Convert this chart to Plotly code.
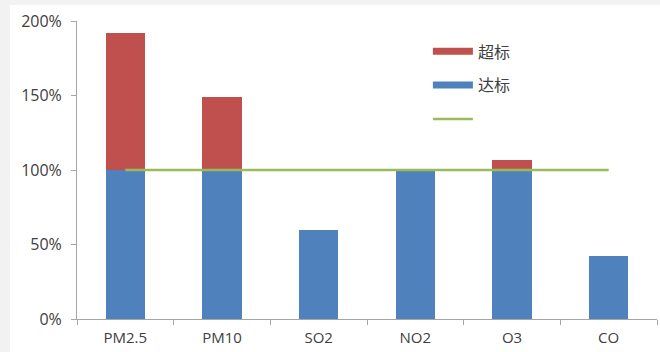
import plotly.graph_objects as go

categories = ["PM2.5", "PM10", "SO2", "NO2", "O3", "CO"]
meet_vals = [1.00, 1.00, 0.60, 1.00, 1.00, 0.42]     # 达标
exceed_vals = [0.92, 0.49, 0.0, 0.0, 0.07, 0.0]     # 超标
standard_line = [1.0, 1.0, 1.0, 1.0, 1.0, 1.0]
y_ticks = [0, 0.5, 1.0, 1.5, 2.0]
y_tick_labels = ["0%", "50%", "100%", "150%", "200%"]

RED = "#c0504d"
BLUE = "#4f81bd"
GREEN = "#9bbb59"
FONT = "Open Sans, Noto Sans CJK SC, sans-serif"

fig = go.Figure()
fig.add_trace(go.Bar(x=categories, y=meet_vals, marker=dict(color=BLUE, line_width=0),
                     showlegend=False, width=0.41))
fig.add_trace(go.Bar(x=categories, y=exceed_vals, marker=dict(color=RED, line_width=0),
                     showlegend=False, width=0.41))
fig.add_trace(go.Scatter(x=categories, y=standard_line, mode="lines",
                         line=dict(color=GREEN, width=2.5), showlegend=False))

# legend proxies
fig.add_trace(go.Scatter(x=[None], y=[None], mode="lines", name="超标",
                         line=dict(color=RED, width=7), legendgroup="a"))
fig.add_trace(go.Scatter(x=[None], y=[None], mode="lines", name="达标",
                         line=dict(color=BLUE, width=7), legendgroup="b"))
fig.add_trace(go.Scatter(x=[None], y=[None], mode="lines", name=" ",
                         line=dict(color=GREEN, width=2.5), legendgroup="c"))

fig.update_layout(
    width=660, height=352,
    margin=dict(l=77, r=3, t=21, b=33),
    barmode="stack",
    paper_bgcolor="#f2f2f2",
    plot_bgcolor="white",
    font=dict(family=FONT, size=15, color="#404040"),
    legend=dict(x=0.605, y=0.955, xanchor="left", yanchor="top",
                bgcolor="rgba(0,0,0,0)", tracegroupgap=10, itemwidth=40,
                font=dict(size=16, color="#404040")),
    shapes=[dict(type="rect", xref="paper", yref="paper",
                 x0=-0.1155, x1=1.1, y0=-0.2, y1=1.0537,
                 fillcolor="white", line_width=0, layer="below")],
    xaxis=dict(showline=True, linecolor="#a6a6a6", linewidth=1,
               ticks="outside", tickson="boundaries", ticklen=5, tickcolor="#a6a6a6",
               showgrid=False, tickfont=dict(size=15), ticklabelstandoff=5),
    yaxis=dict(range=[0, 2], tickvals=y_ticks, ticktext=y_tick_labels,
               showline=True, linecolor="#a6a6a6", linewidth=1,
               ticks="outside", ticklen=5, tickcolor="#a6a6a6",
               showgrid=False, zeroline=False, tickfont=dict(size=16),
               ticklabelstandoff=6),
)

fig.write_html("out.html")
